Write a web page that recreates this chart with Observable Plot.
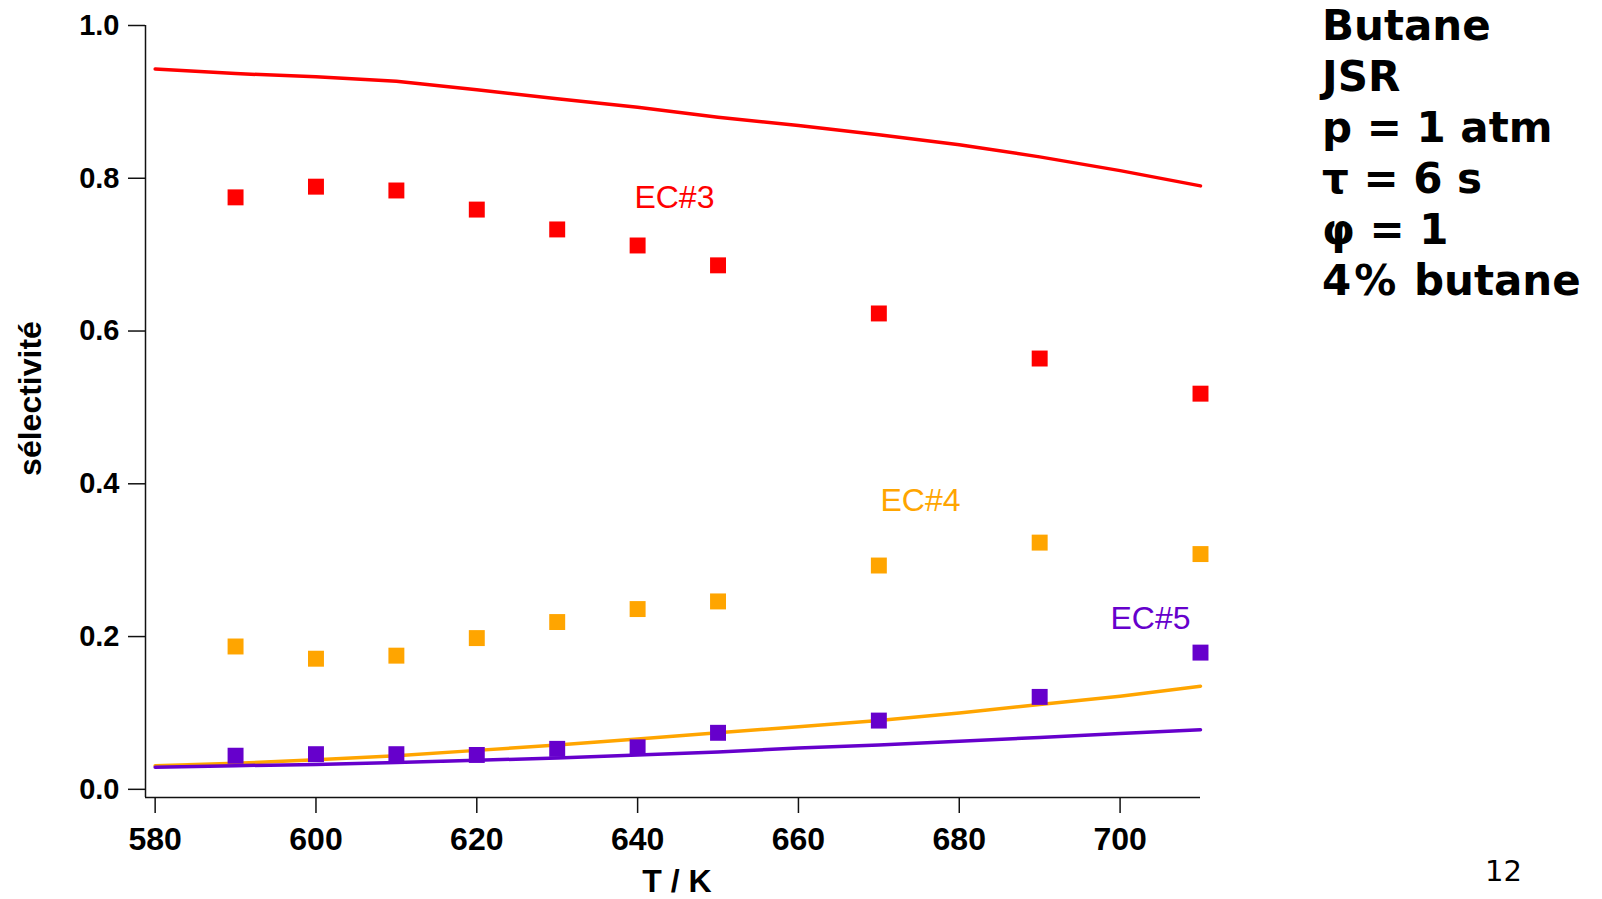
<!DOCTYPE html>
<html>
<head>
<meta charset="utf-8">
<script src="https://cdn.jsdelivr.net/npm/d3@7"></script>
<script src="https://cdn.jsdelivr.net/npm/@observablehq/plot@0.6"></script>
<style>
  html, body { margin: 0; padding: 0; background: #fff; }
  #wrap { position: relative; width: 1602px; height: 899px; overflow: hidden; }
  #info { position: absolute; left: 1322px; top: 0px; font-family: "DejaVu Sans", Verdana, sans-serif;
          font-weight: bold; font-size: 42px; line-height: 51px; color: #000; white-space: nowrap; }
  #page { position: absolute; left: 1485px; top: 853px; font-family: "DejaVu Sans", Verdana, sans-serif;
          font-size: 29px; line-height: 36px; color: #000; }
  svg { font-family: "Liberation Sans", Arial, sans-serif; }
</style>
</head>
<body>
<div id="wrap">
  <div id="chart"></div>
  <div id="info">Butane<br>JSR<br>p = 1 atm<br>τ = 6 s<br>φ = 1<br><span style="letter-spacing:3px">4%</span> butane</div>
  <div id="page">12</div>
</div>
<script>
// Experimental temperatures (K)
const expTemps = [590, 600, 610, 620, 630, 640, 650, 670, 690, 710];
const ec3Exp = [0.775, 0.789, 0.784, 0.759, 0.733, 0.712, 0.686, 0.623, 0.564, 0.518];
const ec4Exp = [0.187, 0.171, 0.175, 0.198, 0.219, 0.236, 0.246, 0.293, 0.323, 0.308];
const ec5Exp = [0.044, 0.046, 0.046, 0.045, 0.053, 0.055, 0.074, 0.090, 0.121, 0.179];

// Model temperatures (K)
const modelTemps = [580, 590, 600, 610, 620, 630, 640, 650, 660, 670, 680, 690, 700, 710];
const ec3Model = [0.943, 0.937, 0.933, 0.927, 0.916, 0.904, 0.893, 0.880, 0.869, 0.857, 0.844, 0.828, 0.810, 0.790];
const ec4Model = [0.031, 0.034, 0.0386, 0.044, 0.051, 0.058, 0.066, 0.074, 0.082, 0.090, 0.100, 0.111, 0.122, 0.135];
const ec5Model = [0.029, 0.031, 0.0325, 0.035, 0.038, 0.041, 0.045, 0.049, 0.054, 0.058, 0.063, 0.068, 0.073, 0.078];

const seriesNames = ["EC#3", "EC#4", "EC#5"];
const seriesColors = ["#ff0000", "#ffa500", "#6600cc"];
// label anchor positions (T, selectivity)
const labelT = [639.6, 670.2, 698.8];
const labelS = [0.775, 0.378, 0.223];

const xTicks = [580, 600, 620, 640, 660, 680, 700];
const yTicks = [0.0, 0.2, 0.4, 0.6, 0.8, 1.0];
const xDomain = [578.8, 710];
const yDomain = [-0.0107, 1.0];

const expArrays = [ec3Exp, ec4Exp, ec5Exp];
const modelArrays = [ec3Model, ec4Model, ec5Model];

const expData = expArrays.flatMap((arr, k) => arr.map((v, i) => ({T: expTemps[i], s: v, series: seriesNames[k]})));
const modelData = modelArrays.flatMap((arr, k) => arr.map((v, i) => ({T: modelTemps[i], s: v, series: seriesNames[k]})));
const labels = seriesNames.map((n, k) => ({T: labelT[k], s: labelS[k], name: n}));

const color = {domain: seriesNames, range: seriesColors};

const chart = Plot.plot({
  width: 1602,
  height: 899,
  marginLeft: 145,
  marginRight: 402,
  marginTop: 25,
  marginBottom: 102,
  x: {domain: xDomain, label: null},
  y: {domain: yDomain, label: null},
  color: color,
  marks: [
    Plot.ruleX([xDomain[0]], {stroke: "#111", strokeWidth: 1.5}),
    Plot.ruleY([yDomain[0]], {stroke: "#111", strokeWidth: 1.5}),
    Plot.axisX({ticks: xTicks, tickSize: 16, tickPadding: 14, fontSize: 32, fontWeight: "bold",
                tickFormat: d3.format("d"), stroke: "#111", strokeWidth: 1.5, fill: "#000"}),
    Plot.axisY({ticks: yTicks, tickSize: 17, tickPadding: 9, fontSize: 29, fontWeight: "bold",
                tickFormat: d3.format(".1f"), stroke: "#111", strokeWidth: 1.5, fill: "#000"}),
    Plot.line(modelData, {x: "T", y: "s", z: "series", stroke: "series", strokeWidth: 3.5}),
    Plot.dot(expData, {x: "T", y: "s", fill: "series", symbol: "square", r: 9, stroke: null}),
    Plot.text(labels, {x: "T", y: "s", text: "name", fill: (d) => d.name, textAnchor: "start",
                       lineAnchor: "middle", fontSize: 32}),
    Plot.text(["sélectivité"], {frameAnchor: "left", textAnchor: "middle", lineAnchor: "middle",
                                dx: -115, dy: -13, rotate: -90,
                                fontSize: 32, fontWeight: "bold", fill: "#000"}),
    Plot.text(["T / K"], {frameAnchor: "bottom", textAnchor: "middle", dx: 4, dy: 84, lineAnchor: "middle",
                          fontSize: 32, fontWeight: "bold", fill: "#000"})
  ]
});
document.getElementById("chart").appendChild(chart);
</script>
</body>
</html>
